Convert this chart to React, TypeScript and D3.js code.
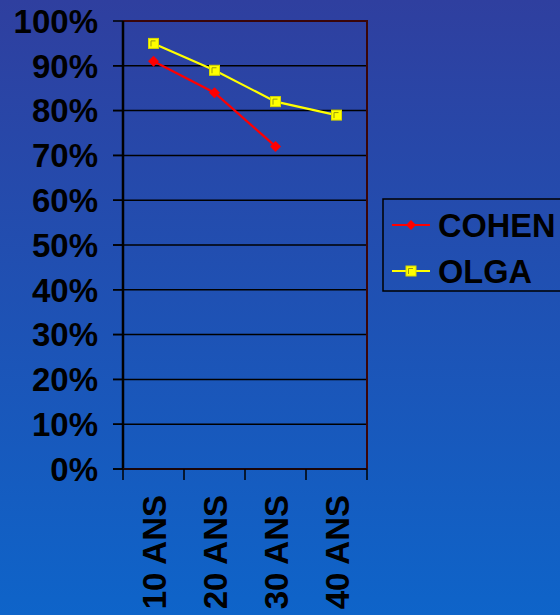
import React from "react";
import * as d3 from "d3";

const WIDTH = 560;
const HEIGHT = 615;

const categories = ["10 ANS", "20 ANS", "30 ANS", "40 ANS"];
const cohen = [91, 84, 72];
const olga = [95, 89, 82, 79];
const yTicks = [0, 10, 20, 30, 40, 50, 60, 70, 80, 90, 100];

const FONT = "'Liberation Sans', Arial, sans-serif";

export default function App() {
  const x = d3.scaleBand<string>().domain(categories).range([123, 367]);
  const y = d3.scaleLinear().domain([0, 100]).range([469, 21]);

  const line = d3
    .line<number>()
    .x((_, i) => (x(categories[i]) ?? 0) + x.bandwidth() / 2)
    .y((d) => y(d));

  const boundaries = categories.map((c) => x(c) ?? 0).concat([x.range()[1]]);

  const diamond = (cx: number, cy: number, r: number) =>
    `M${cx},${cy - r}L${cx + r},${cy}L${cx},${cy + r}L${cx - r},${cy}Z`;

  const square = (cx: number, cy: number, key: string) => (
    <g key={key}>
      <rect x={cx - 5} y={cy - 5} width={10} height={10} fill="#ffff00" stroke="#d8d800" strokeWidth={1} />
      <path d={`M${cx - 2.5},${cy + 3}V${cy - 2.5}H${cx + 2}`} fill="none" stroke="#9a9a10" strokeWidth={1} />
    </g>
  );

  return (
    <svg
      width={WIDTH}
      height={HEIGHT}
      style={{ position: "absolute", left: 0, top: 0 }}
      fontFamily={FONT}
    >
      <defs>
        <linearGradient id="bg" x1="0" y1="0" x2="0" y2="1">
          <stop offset="0%" stopColor="#2f3f9f" />
          <stop offset="100%" stopColor="#0e64c9" />
        </linearGradient>
      </defs>
      <rect width={WIDTH} height={HEIGHT} fill="url(#bg)" />

      {/* gridlines + y ticks */}
      {yTicks.map((t) => (
        <g key={t}>
          <line x1={113} x2={367} y1={y(t)} y2={y(t)} stroke="#000" strokeWidth={t === 100 ? 0 : 1.5} />
          <line x1={113} x2={123} y1={y(t)} y2={y(t)} stroke="#000" strokeWidth={1.5} />
          <text
            x={98}
            y={y(t)}
            dy="0.36em"
            textAnchor="end"
            fontSize={33}
            fontWeight="bold"
            fill="#000"
          >
            {t}%
          </text>
        </g>
      ))}

      {/* plot border: top & right */}
      <path d={`M123,${y(100)}H367V${y(0)}`} fill="none" stroke="#3a0508" strokeWidth={2} />
      {/* left axis */}
      <line x1={123} x2={123} y1={y(100)} y2={y(0)} stroke="#000" strokeWidth={2.5} />
      {/* bottom axis */}
      <line x1={123} x2={367} y1={y(0)} y2={y(0)} stroke="#1a0508" strokeWidth={2} />
      {boundaries.map((b, i) => (
        <line key={i} x1={b} x2={b} y1={y(0)} y2={y(0) + 11} stroke="#000" strokeWidth={1.5} />
      ))}

      {/* x labels */}
      {categories.map((c) => {
        const cx = (x(c) ?? 0) + x.bandwidth() / 2;
        return (
          <text
            key={c}
            transform={`translate(${cx + 12},495) rotate(-90)`}
            textAnchor="end"
            fontSize={33}
            fontWeight="bold"
            fill="#000"
          >
            {c}
          </text>
        );
      })}

      {/* series */}
      <path d={line(olga) ?? ""} fill="none" stroke="#ffff00" strokeWidth={2.2} />
      <path d={line(cohen) ?? ""} fill="none" stroke="#ff0000" strokeWidth={2.2} />
      {cohen.map((v, i) => {
        const cx = (x(categories[i]) ?? 0) + x.bandwidth() / 2;
        return <path key={i} d={diamond(cx, y(v), 5.5)} fill="#ff0000" />;
      })}
      {olga.map((v, i) => {
        const cx = (x(categories[i]) ?? 0) + x.bandwidth() / 2;
        return square(cx, y(v), "o" + i);
      })}

      {/* legend */}
      <rect x={383} y={199} width={190} height={92} fill="none" stroke="#000" strokeWidth={1.5} />
      <line x1={392} x2={430} y1={225} y2={225} stroke="#ff0000" strokeWidth={2} />
      <path d={diamond(411, 225, 5)} fill="#ff0000" />
      <text x={438} y={225} dy="0.36em" fontSize={32.5} fontWeight="bold" fill="#000">
        COHEN
      </text>
      <line x1={392} x2={430} y1={271} y2={271} stroke="#ffff00" strokeWidth={2} />
      {square(411, 271, "leg")}
      <text x={438} y={271} dy="0.36em" fontSize={32.5} fontWeight="bold" fill="#000">
        OLGA
      </text>
    </svg>
  );
}
